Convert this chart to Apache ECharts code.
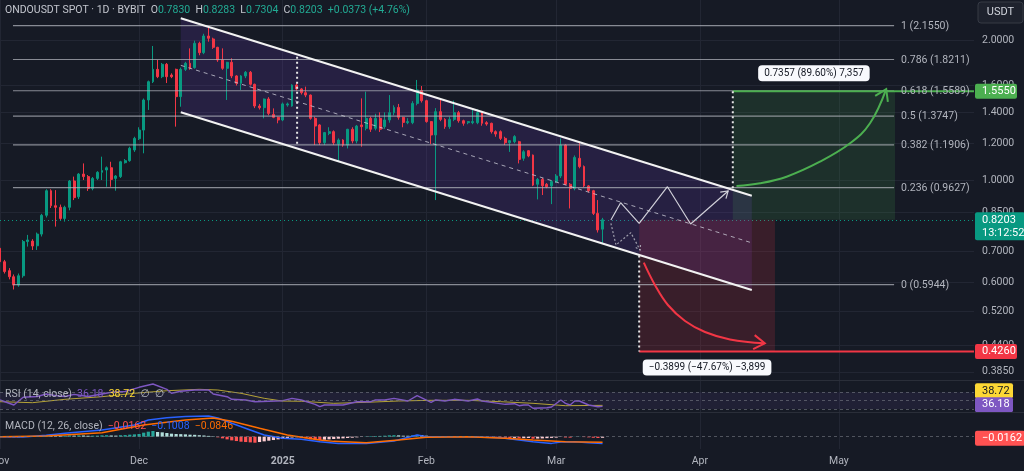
<!DOCTYPE html>
<html><head><meta charset="utf-8">
<script src="https://cdn.jsdelivr.net/npm/echarts@6/dist/echarts.min.js"></script>
<style>html,body{margin:0;padding:0;background:#161a25;}#c{width:1024px;height:471px;}</style>
</head><body><div id="c"></div>
<script>
// ---------------- DATA ----------------
// x values are days since 2024-11-01 (daily candles 2024-11-01 .. 2025-03-11)
const firstDate = '2024-11-01';
const monthTicks = [[0,'Nov'],[30,'Dec'],[61,'2025'],[92,'Feb'],[120,'Mar'],[151,'Apr'],[181,'May']];
const priceTicks = [2.0, 1.6, 1.4, 1.2, 1.0, 0.85, 0.70, 0.60, 0.52, 0.44, 0.385];
// [open, high, low, close]
const ohlc = [
[0.712,0.725,0.655,0.666],[0.666,0.672,0.628,0.634],[0.637,0.645,0.610,0.618],[0.618,0.625,0.580,0.593],[0.593,0.628,0.588,0.621],
[0.621,0.742,0.615,0.736],[0.736,0.761,0.718,0.742],[0.738,0.745,0.706,0.720],[0.721,0.770,0.706,0.764],[0.764,0.845,0.755,0.839],
[0.839,0.955,0.830,0.948],[0.948,0.955,0.870,0.880],[0.880,0.951,0.793,0.873],[0.873,0.885,0.820,0.826],[0.826,0.880,0.813,0.873],
[0.873,1.000,0.860,0.995],[0.995,1.017,0.905,0.916],[0.920,1.035,0.910,1.030],[1.030,1.086,1.000,1.017],[1.017,1.025,0.947,0.959],
[0.959,1.015,0.950,1.008],[1.008,1.045,1.000,1.039],[1.039,1.123,1.000,1.048],[1.051,1.070,0.967,1.063],[1.063,1.095,0.967,1.003],
[1.008,1.025,0.948,1.020],[1.017,1.100,1.010,1.095],[1.090,1.110,1.085,1.101],[1.101,1.180,1.095,1.171],[1.161,1.240,1.150,1.230],
[1.228,1.300,1.220,1.282],[1.282,1.500,1.142,1.489],[1.489,1.640,1.417,1.631],[1.631,1.948,1.620,1.734],[1.734,1.817,1.660,1.672],
[1.672,1.790,1.660,1.778],[1.778,1.790,1.620,1.672],[1.686,1.700,1.660,1.672],[1.734,1.740,1.304,1.514],[1.514,1.750,1.440,1.734],
[1.734,1.800,1.720,1.787],[1.787,1.925,1.730,1.743],[1.749,2.000,1.740,1.974],[1.974,1.990,1.860,1.884],[1.884,2.070,1.870,2.047],
[2.047,2.144,1.990,2.024],[2.017,2.030,1.920,1.935],[1.935,1.940,1.800,1.817],[1.817,1.925,1.730,1.743],[1.743,1.800,1.489,1.796],
[1.796,1.832,1.660,1.678],[1.678,1.685,1.600,1.618],[1.618,1.685,1.565,1.678],[1.678,1.720,1.660,1.709],[1.709,1.720,1.600,1.610],
[1.610,1.615,1.430,1.445],[1.445,1.460,1.420,1.433],[1.433,1.500,1.359,1.496],[1.496,1.510,1.380,1.393],[1.386,1.428,1.360,1.366],
[1.366,1.370,1.326,1.348],[1.348,1.470,1.340,1.460],[1.452,1.470,1.440,1.460],[1.445,1.610,1.440,1.604],[1.604,1.618,1.560,1.573],
[1.573,1.580,1.530,1.544],[1.544,1.591,1.510,1.526],[1.526,1.530,1.350,1.359],[1.359,1.370,1.190,1.308],[1.315,1.320,1.190,1.204],
[1.204,1.270,1.190,1.266],[1.261,1.300,1.250,1.272],[1.272,1.280,1.190,1.204],[1.196,1.230,1.095,1.220],[1.220,1.225,1.180,1.190],
[1.190,1.290,1.170,1.287],[1.287,1.300,1.200,1.214],[1.214,1.315,1.200,1.308],[1.315,1.501,1.180,1.304],[1.293,1.552,1.280,1.359],
[1.359,1.370,1.270,1.287],[1.293,1.390,1.280,1.359],[1.359,1.400,1.270,1.287],[1.304,1.400,1.290,1.348],[1.348,1.526,1.330,1.398],
[1.398,1.450,1.380,1.435],[1.435,1.460,1.350,1.366],[1.366,1.370,1.300,1.332],[1.330,1.360,1.320,1.337],[1.330,1.480,1.320,1.464],
[1.464,1.645,1.450,1.565],[1.560,1.596,1.470,1.484],[1.484,1.490,1.330,1.337],[1.337,1.340,1.196,1.251],[1.251,1.430,0.905,1.405],
[1.405,1.494,1.340,1.352],[1.352,1.360,1.290,1.304],[1.304,1.370,1.290,1.352],[1.352,1.484,1.340,1.398],[1.398,1.410,1.330,1.343],
[1.343,1.350,1.310,1.326],[1.330,1.340,1.320,1.337],[1.330,1.428,1.320,1.337],[1.330,1.420,1.320,1.398],[1.398,1.410,1.310,1.326],
[1.330,1.340,1.310,1.321],[1.326,1.330,1.260,1.272],[1.272,1.280,1.240,1.257],[1.272,1.280,1.220,1.230],[1.230,1.240,1.190,1.204],
[1.204,1.220,1.150,1.216],[1.210,1.250,1.200,1.241],[1.210,1.215,1.086,1.108],[1.114,1.160,1.100,1.151],[1.157,1.160,1.120,1.127],
[1.132,1.135,0.970,0.975],[0.979,1.010,0.908,1.003],[1.003,1.010,0.928,0.972],[0.979,0.985,0.960,0.967],[0.971,1.000,0.887,0.992],
[0.992,1.030,0.985,1.020],[1.020,1.230,1.010,1.190],[1.190,1.196,0.975,0.979],[0.979,0.985,0.868,0.959],[0.959,1.130,0.950,1.119],
[1.114,1.204,1.060,1.069],[1.069,1.075,0.965,0.971],[0.971,0.975,0.940,0.948],[0.948,0.952,0.840,0.847],[0.847,0.905,0.770,0.780],
[0.7830,0.8283,0.7304,0.8203]
];
const lastClose = 0.8203;
// drawings: [day, price]
const channelUpper = [[39.0, 2.2356], [162.2, 0.9249]];
const channelLower = [[39.0, 1.4006], [162.2, 0.5785]];
const channelMid = [[39.0, 1.769], [162.2, 0.7315]];
const fibLevels = [[1, 2.1550], [0.786, 1.8211], [0.618, 1.5589], [0.5, 1.3747], [0.382, 1.1906], [0.236, 0.9627], [0, 0.5944]];
const fibSpan = [2.8, 192.9];
const swingMarker = [[64.1, 1.8467], [64.1, 1.190]];
const pathUp = [[131.8,0.8195],[133.9,0.8932],[137.9,0.8062],[144.0,0.9672],[149.0,0.8034],[157.1,0.9467]];
const pathDown = [[131.8,0.8062],[132.9,0.7237],[136.1,0.7694],[138.1,0.7059]];
const longBoxDays = [158.1, 193.1];
const longBoxPrices = [0.8203, 1.5550];
const shortBoxDays = [137.9, 167.2];
const shortBoxPrices = [0.4260, 0.8203];
const takeProfit = 1.5550;
const stopLoss = 0.4260;
const entryMarker = [[158.1, 1.5550], [158.1, 0.958]];
const stopMarker = [[137.9, 0.687], [137.9, 0.4260]];
const targetCurve = [[158.9,0.9706],[164.0,0.9837],[169.7,1.0166],[176.9,1.0953],[183.4,1.2003],[187.7,1.3259],[191.2,1.572]];
const stopCurve = [[138.9,0.6627],[141.3,0.5931],[144.1,0.5369],[147.8,0.4958],[152.1,0.4694],[157.5,0.4523],[165.0,0.4437]];
const longLabel = '0.7357 (89.60%) 7,357';
const shortLabel = '\u22120.3899 (\u221247.67%) \u22123,899';
// RSI (14) and its MA: [day, value]
const rsi = [[0,51.6],[3,39.6],[5,58],[8,60],[10,66],[12,62],[14,60],[16,65],[19,60],[22,66],[24,70],[27,72],[30,82],[33,89.9],[36,77.2],[37,67.6],[39,72.4],[42,75.5],[45,75.5],[46,65.9],[49,59.5],[50,53.2],[53,51.6],[55,47.5],[61,49.9],[63,55.6],[65,51.6],[68,41.2],[69,35.5],[70,39.6],[74,39.6],[77,47.5],[80,47.5],[81,51.6],[83,51.6],[85,55.6],[88,49.2],[90,61.9],[93,46.0],[94,51.6],[96,49.2],[98,53.2],[101,49.2],[103,54.0],[104,49.2],[106,46.0],[109,41.2],[111,42.7],[112,37.9],[113,39.6],[114,39.6],[115,31.7],[118,33.1],[119,34.8],[121,51.6],[122,43.6],[123,39.6],[124,49.2],[125,49.2],[127,39.6],[129,35.5],[130,36.18]];
const rsiMa = [[0,47.5],[7,45.1],[14,53.2],[22,59.5],[29,67.6],[36,73.8],[43,77.2],[47,75.5],[52,67.6],[57,55.6],[61,49.0],[65,48.5],[72,43.6],[79,46.0],[86,49.2],[93,50.8],[101,50.8],[108,47.5],[115,43.6],[122,37.9],[130,38.72]];
// MACD (12,26): lines as [day, value], histogram per day
const macdLine = [[0,0.0],[5,-0.005],[10,0.02],[14,0.05],[22,0.10],[29,0.175],[32,0.25],[36,0.284],[40,0.30],[45,0.31],[47,0.28],[50,0.20],[54,0.10],[57,0.025],[61,-0.024],[65,-0.04],[69,-0.075],[73,-0.10],[79,-0.10],[85,-0.064],[90,0.025],[92,0.0],[101,0.0],[108,-0.015],[112,-0.05],[115,-0.075],[119,-0.10],[121,-0.08],[124,-0.075],[127,-0.09],[130,-0.1008]];
const signalLine = [[0,0.0],[10,0.01],[22,0.06],[31,0.175],[40,0.25],[46,0.28],[50,0.23],[56,0.125],[62,0.025],[69,-0.05],[72,-0.07],[79,-0.09],[86,-0.05],[92,-0.01],[101,0.0],[109,-0.024],[115,-0.05],[122,-0.075],[130,-0.0846]];
const macdHist = [
-0.004,-0.006,-0.008,-0.01,-0.008,0.004,0.008,0.008,0.01,0.014,0.02,
0.018,0.016,0.012,0.014,0.02,0.016,0.02,0.018,0.014,0.015,0.016,
0.02,0.022,0.018,0.016,0.022,0.024,0.03,0.035,0.04,
0.06,0.075,0.085,0.07,0.065,0.055,
0.045,0.04,0.038,0.035,0.03,0.028,0.022,0.018,0.012,0.006,
-0.01,-0.025,-0.04,-0.055,-0.065,-0.075,-0.08,-0.085,-0.09,-0.08,-0.07,
-0.06,-0.05,-0.04,-0.03,-0.02,-0.012,-0.008,
-0.015,-0.025,-0.04,-0.05,-0.05,-0.045,-0.04,-0.035,-0.03,-0.025,-0.02,-0.015,-0.01,-0.005,
0.005,0.008,0.01,0.012,0.015,0.02,0.022,0.02,0.015,0.014,0.02,0.028,0.025,0.015,
0.005,0.008,0.006,0.003,0.004,0.006,0.004,0.002,0.002,0.003,0.005,0.002,-0.002,
-0.006,-0.01,-0.014,-0.018,-0.02,-0.018,-0.024,-0.022,-0.02,-0.03,-0.028,-0.026,-0.022,-0.018,-0.014,
-0.004,-0.012,-0.014,0.002,0.003,-0.006,-0.01,-0.016,-0.02,-0.0162
];
const rsiNow = 36.18, rsiMaNow = 38.72;
const histNow = -0.0162, macdNow = -0.1008, signalNow = -0.0846;

// ---------------- CHART ----------------
const L = Math.log;
const X_MAX = 210.14;
const FONT = 'Roboto, "Noto Sans", "DejaVu Sans", sans-serif';
const TXT = '#b2b5be';
const UP = '#089981', DOWN = '#f23645';

const chart = echarts.init(document.getElementById('c'), null, {renderer: 'canvas'});

const tickDays = monthTicks.map(m => m[0]);
function xAxisFor(gi, withLabels) {
  return {
    type: 'value', gridIndex: gi, min: 0, max: X_MAX,
    axisLine: {show: false},
    axisTick: {show: false, customValues: tickDays},
    splitLine: {show: true, lineStyle: {color: '#222633', width: 1}},
    axisLabel: withLabels ? {
      show: true, customValues: tickDays, margin: 7, color: TXT, fontSize: 10.5, fontFamily: FONT,
      formatter: v => { const m = monthTicks.find(t => t[0] === v); if (!m) return ''; return m[1] === '2025' ? '{y|2025}' : m[1]; },
      rich: {y: {fontWeight: 'bold', color: TXT, fontSize: 10.5, fontFamily: FONT}}
    } : {show: false}
  };
}

function pts2(p) { return p.map(q => [q[0], L(q[1])]); }
function lineS(points, color, width, type, extra) {
  return Object.assign({
    type: 'line', xAxisIndex: 0, yAxisIndex: 0, data: pts2(points), symbol: 'none', silent: true, z: 3,
    lineStyle: {color: color, width: width, type: type || 'solid'}
  }, extra || {});
}
function polyS(points, fill, z) {
  return {
    type: 'custom', xAxisIndex: 0, yAxisIndex: 0, z: z, silent: true, data: pts2(points),
    renderItem: (params, api) => {
      if (params.dataIndex !== 0) return null;
      return {type: 'polygon', shape: {points: points.map(q => api.coord([q[0], L(q[1])]))}, style: {fill: fill}};
    }
  };
}
function arrowS(points, color, len, width, dash) {
  const tip = points[points.length - 1], prev = points[points.length - 2];
  return {
    type: 'custom', xAxisIndex: 0, yAxisIndex: 0, z: 3, silent: true, data: [[tip[0], L(tip[1])]],
    renderItem: (params, api) => {
      const a = api.coord([tip[0], L(tip[1])]), b = api.coord([prev[0], L(prev[1])]);
      const ang = Math.atan2(a[1] - b[1], a[0] - b[0]), s = Math.PI / 5.5;
      const p1 = [a[0] - len * Math.cos(ang - s), a[1] - len * Math.sin(ang - s)];
      const p2 = [a[0] - len * Math.cos(ang + s), a[1] - len * Math.sin(ang + s)];
      return {type: 'polyline', shape: {points: [p1, a, p2]}, style: {stroke: color, lineWidth: width, fill: null, lineDash: dash || null}};
    }
  };
}
function rectPts(days, prices) {
  return [[days[0], prices[0]], [days[1], prices[0]], [days[1], prices[1]], [days[0], prices[1]]];
}

const series = [];
// fills
series.push(polyS([channelUpper[0], channelUpper[1], channelLower[1], channelLower[0]], 'rgba(103,58,183,0.2)', 1));
series.push(polyS(rectPts(longBoxDays, longBoxPrices), 'rgba(76,175,80,0.15)', 1));
series.push(polyS(rectPts(shortBoxDays, shortBoxPrices), 'rgba(242,54,69,0.16)', 1));
// candles
series.push({
  type: 'candlestick', xAxisIndex: 0, yAxisIndex: 0, z: 2, barWidth: 2.4, silent: true,
  encode: {x: 0, y: [1, 2, 3, 4]},
  data: ohlc.map((r, i) => [i, L(r[0]), L(r[3]), L(r[2]), L(r[1])]),
  itemStyle: {color: UP, color0: DOWN, borderColor: UP, borderColor0: DOWN, borderWidth: 1},
  markLine: {silent: true, symbol: 'none', label: {show: false}, z: 1,
    lineStyle: {color: UP, width: 1, type: [1, 3]}, data: [{yAxis: L(lastClose)}]}
});
// fib levels
fibLevels.forEach(f => series.push(lineS([[fibSpan[0], f[1]], [fibSpan[1], f[1]]], 'rgba(175,178,186,0.75)', 1.2)));
// channel
series.push(lineS(channelUpper, '#f2f2f2', 2));
series.push(lineS(channelLower, '#f2f2f2', 2));
series.push(lineS(channelMid, 'rgba(210,210,220,0.75)', 1, [4, 4]));
series.push(lineS(swingMarker, '#e6e6e6', 2, [2, 3]));
// projections
series.push(lineS(pathUp, 'rgba(225,225,232,0.9)', 1.2));
series.push(arrowS(pathUp, 'rgba(225,225,232,0.9)', 8, 1.2));
series.push(lineS(pathDown, 'rgba(180,180,190,0.85)', 1.2, [2, 2]));
series.push(arrowS(pathDown, 'rgba(180,180,190,0.85)', 5, 1.2, [2, 2]));
// position tool
series.push(lineS([[longBoxDays[0], takeProfit], [X_MAX, takeProfit]], '#4caf50', 2));
series.push(lineS([[shortBoxDays[0], stopLoss], [X_MAX, stopLoss]], '#f23645', 2));
series.push(lineS(entryMarker, '#e6e6e6', 2, [2, 3]));
series.push(lineS(stopMarker, '#e6e6e6', 2, [2, 3]));
series.push(lineS(targetCurve, '#4caf50', 2, 'solid', {smooth: 0.4}));
series.push(arrowS(targetCurve, '#4caf50', 13, 2));
series.push(lineS(stopCurve, '#f23645', 2, 'solid', {smooth: 0.4}));
series.push(arrowS(stopCurve, '#f23645', 13, 2));

// labels (fib + position)
series.push({
  type: 'custom', xAxisIndex: 0, yAxisIndex: 0, z: 4, silent: true,
  data: fibLevels.map(f => [fibSpan[1], L(f[1])]),
  renderItem: (params, api) => {
    const f = fibLevels[params.dataIndex];
    const p = api.coord([fibSpan[1], L(f[1])]);
    return {type: 'text', style: {text: f[0] + ' (' + f[1].toFixed(4) + ')', x: p[0] + 7, y: p[1] + 0.5,
      fill: TXT, fontSize: 10.5, fontFamily: FONT, align: 'left', verticalAlign: 'middle'}};
  }
});
const boxLabels = [
  {day: (longBoxDays[0] + longBoxDays[1]) / 2, price: longBoxPrices[1], text: longLabel, dy: -18},
  {day: (shortBoxDays[0] + shortBoxDays[1]) / 2, price: shortBoxPrices[0], text: shortLabel, dy: 16}
];
series.push({
  type: 'custom', xAxisIndex: 0, yAxisIndex: 0, z: 6, silent: true,
  data: boxLabels.map(b => [b.day, L(b.price)]),
  renderItem: (params, api) => {
    const b = boxLabels[params.dataIndex];
    const p = api.coord([b.day, L(b.price)]);
    return {type: 'text', style: {text: b.text, x: p[0], y: p[1] + b.dy, fill: '#131722', fontSize: 10, fontFamily: FONT,
      align: 'center', verticalAlign: 'middle', backgroundColor: '#f8f9fd', padding: [3, 6, 3, 6], borderRadius: 4}};
  }
});

// tags on right axis
function tagS(xi, yi, tags) {
  return {
    type: 'custom', xAxisIndex: xi, yAxisIndex: yi, z: 10, silent: true,
    data: tags.map(t => [X_MAX, t.v]),
    renderItem: (params, api) => {
      const t = tags[params.dataIndex];
      const p = api.coord([X_MAX, t.v]);
      const cy = p[1] + (t.dy || 0);
      const h = t.sub ? 28 : 15;
      const top = t.sub ? cy - 7.5 : cy - h / 2;
      const children = [{type: 'rect', shape: {x: p[0] + 1, y: top, width: t.w, height: t.hClip || h, r: 2}, style: {fill: t.bg}}];
      if (t.text) children.push({type: 'text', style: {text: t.text, x: p[0] + 8, y: top + 7.5, fill: t.fg, fontSize: 11, fontFamily: FONT, verticalAlign: 'middle'}});
      if (t.sub) children.push({type: 'text', style: {text: t.sub, x: p[0] + 8, y: top + 20.5, fill: t.fg, fontSize: 11, fontFamily: FONT, verticalAlign: 'middle'}});
      return {type: 'group', children: children};
    }
  };
}
series.push(tagS(0, 0, [
  {v: L(takeProfit), text: takeProfit.toFixed(4), bg: '#4caf50', fg: '#ffffff', w: 42},
  {v: L(lastClose), text: lastClose.toFixed(4), sub: '13:12:52', bg: '#089981', fg: '#ffffff', w: 50},
  {v: L(stopLoss), text: stopLoss.toFixed(4), bg: '#f23645', fg: '#ffffff', w: 42}
]));

// RSI pane
series.push({
  type: 'line', xAxisIndex: 1, yAxisIndex: 1, data: rsiMa, symbol: 'none', silent: true, z: 2,
  lineStyle: {color: '#b5a337', width: 1}
});
series.push({
  type: 'line', xAxisIndex: 1, yAxisIndex: 1, data: rsi, symbol: 'none', silent: true, z: 3,
  lineStyle: {color: '#7e57c2', width: 1.4},
  markArea: {silent: true, itemStyle: {color: 'rgba(126,87,194,0.1)'}, data: [[{yAxis: 30}, {yAxis: 70}]]},
  markLine: {silent: true, symbol: 'none', label: {show: false}, lineStyle: {color: 'rgba(120,123,134,0.6)', width: 1, type: [3, 3]},
    data: [{yAxis: 70}, {yAxis: 50}, {yAxis: 30}]}
});
series.push(tagS(1, 1, [
  {v: rsiMaNow, text: rsiMaNow.toFixed(2), bg: '#fdd835', fg: '#131722', w: 38, dy: -14.5},
  {v: rsiNow, text: rsiNow.toFixed(2), bg: '#7e57c2', fg: '#ffffff', w: 38, dy: -1.7}
]));

// MACD pane
function histColor(v, prev) { return v >= 0 ? (v >= prev ? '#26a69a' : '#b2dfdb') : (v <= prev ? '#ff5252' : '#ffcdd2'); }
series.push({
  type: 'bar', xAxisIndex: 2, yAxisIndex: 2, barWidth: 3.2, silent: true, z: 2,
  data: macdHist.map((v, i) => ({value: [i, v], itemStyle: {color: histColor(v, i ? macdHist[i - 1] : 0)}})),
  markLine: {silent: true, symbol: 'none', label: {show: false}, lineStyle: {color: 'rgba(120,123,134,0.6)', width: 1, type: [3, 3]},
    data: [{yAxis: 0}]}
});
series.push({type: 'line', xAxisIndex: 2, yAxisIndex: 2, data: macdLine, symbol: 'none', silent: true, z: 3,
  lineStyle: {color: '#2962ff', width: 1.5}});
series.push({type: 'line', xAxisIndex: 2, yAxisIndex: 2, data: signalLine, symbol: 'none', silent: true, z: 4,
  lineStyle: {color: '#ff6d00', width: 1.5}});
series.push(tagS(2, 2, [
  {v: histNow, bg: '#ff6d00', w: 50, dy: 9, hClip: 3},
  {v: histNow, text: '\u22120.0162', bg: '#ff5252', fg: '#ffffff', w: 50, dy: 0.5}
]));

const grids = [
  {left: 0, right: 50, top: 0, height: 380},
  {left: 0, right: 50, top: 381, height: 31},
  {left: 0, right: 50, top: 413, height: 36}
].map(g => Object.assign(g, {containLabel: false, outerBoundsMode: 'none'}));

const option = {
  backgroundColor: '#161a25',
  animation: false,
  grid: grids,
  xAxis: [xAxisFor(0, false), xAxisFor(1, false), xAxisFor(2, true)],
  yAxis: [
    {type: 'value', gridIndex: 0, position: 'right', min: (180 - 380) / 201, max: 180 / 201,
      axisLine: {show: false}, axisTick: {show: false, customValues: priceTicks.map(L)},
      axisLabel: {customValues: priceTicks.map(L), formatter: v => Math.exp(v).toFixed(4), color: TXT, fontSize: 10.5, fontFamily: FONT, margin: 8},
      splitLine: {show: true, lineStyle: {color: '#222633', width: 1}}},
    {type: 'value', gridIndex: 1, position: 'right', min: 22.8, max: 97.1,
      axisLine: {show: false}, axisTick: {show: false}, axisLabel: {show: false}, splitLine: {show: false}},
    {type: 'value', gridIndex: 2, position: 'right', min: -0.184, max: 0.354,
      axisLine: {show: false}, axisTick: {show: false}, axisLabel: {show: false}, splitLine: {show: false}}
  ],
  series: series,
  graphic: [
    {type: 'line', shape: {x1: 0, y1: 380.5, x2: 1024, y2: 380.5}, style: {stroke: '#2a2e39', lineWidth: 1}, z: 20},
    {type: 'line', shape: {x1: 0, y1: 412.5, x2: 1024, y2: 412.5}, style: {stroke: '#2a2e39', lineWidth: 1}, z: 20},
    {type: 'text', x: 5, y: 5, z: 20, style: {
      text: '{a|ONDOUSDT SPOT \u00b7 1D \u00b7 BYBIT}  {a|O}{b|0.7830}  {a|H}{b|0.8283}  {a|L}{b|0.7304}  {a|C}{b|0.8203}  {b|+0.0373 (+4.76%)}',
      fontSize: 10.5, fontFamily: FONT,
      rich: {a: {fill: '#c3c6ce', fontSize: 10.5, fontFamily: FONT}, b: {fill: '#22ab94', fontSize: 10.5, fontFamily: FONT}}}},
    {type: 'text', x: 5, y: 389, z: 20, style: {
      text: '{a|RSI (14, close)}  {p|36.18}  {y|38.72}  {a|\u2205  \u2205}',
      fontSize: 10.5, fontFamily: FONT,
      rich: {a: {fill: '#b2b5be', fontSize: 10.5, fontFamily: FONT}, p: {fill: '#7e57c2', fontSize: 10.5, fontFamily: FONT}, y: {fill: '#fdd835', fontSize: 10.5, fontFamily: FONT}}}},
    {type: 'text', x: 5, y: 421, z: 20, style: {
      text: '{a|MACD (12, 26, close)}  {r|\u22120.0162}  {bl|\u22120.1008}  {o|\u22120.0846}',
      fontSize: 10.5, fontFamily: FONT,
      rich: {a: {fill: '#b2b5be', fontSize: 10.5, fontFamily: FONT}, r: {fill: '#ff5252', fontSize: 10.5, fontFamily: FONT}, bl: {fill: '#2962ff', fontSize: 10.5, fontFamily: FONT}, o: {fill: '#ff6d00', fontSize: 10.5, fontFamily: FONT}}}},
    {type: 'rect', z: 20, shape: {x: 978, y: 2, width: 45, height: 21, r: 3}, style: {fill: '#1e222d', stroke: '#363a45', lineWidth: 1}},
    {type: 'text', z: 21, x: 1000.5, y: 12.5, style: {text: 'USDT', fill: '#d1d4dc', fontSize: 11, fontFamily: FONT, align: 'center', verticalAlign: 'middle'}}
  ]
};
chart.setOption(option);
</script></body></html>
